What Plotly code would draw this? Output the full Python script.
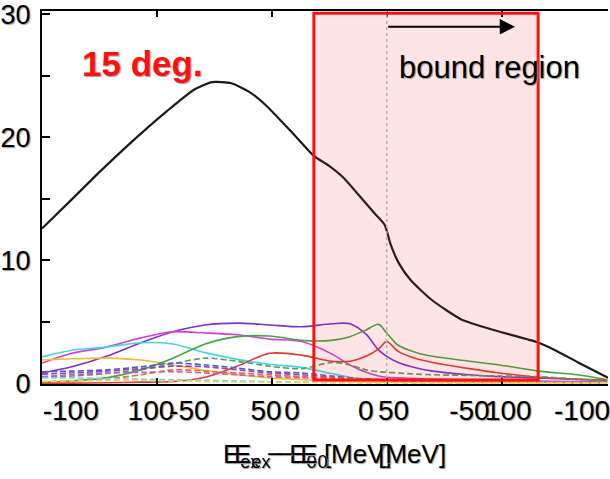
import plotly.graph_objects as go

# Excitation energy E_ex - E_0 [MeV] (axis runs from positive to negative)
e_total = [150.0, 137.9, 124.9, 110.6, 95.9, 83.7, 75.9, 67.6, 59.8, 52.5, 44.7, 38.2, 31.7, 25.2,
           18.7, 12.1, 5.6, 0.9, -1.7, -5.2, -10.4, -19.5, -32.5, -47.3, -64.6, -73.3, -83.3, -96.3]
total = [12.6, 14.8, 17.2, 19.7, 22.1, 23.9, 24.5, 24.4, 23.7, 22.6, 21.1, 19.8, 18.5, 17.7,
         16.7, 15.3, 13.9, 12.9, 11.3, 9.8, 8.4, 6.8, 5.2, 4.3, 3.4, 2.7, 1.7, 0.45]

e_comp = [150, 137, 122, 107, 93, 79, 65, 51, 37, 24, 16, 9, 3.5, 0, -5, -13, -20, -36, -49, -66, -83, -96]

violet   = [0.85, 1.35, 2.2, 3.3, 4.2, 4.75, 4.9, 4.75, 4.6, 4.85, 4.85, 4.0, 2.7, 2.2, 1.7, 1.25, 1.0, 0.7, 0.55, 0.45, 0.32, 0.25]
magenta  = [1.65, 2.45, 2.95, 3.7, 4.2, 4.1, 3.95, 3.6, 3.4, 2.4, 1.5, 0.9, 0.6, 0.5, 0.45, 0.4, 0.35, 0.3, 0.25, 0.2, 0.15, 0.1]
cyan     = [2.15, 2.7, 2.95, 3.3, 3.2, 2.5, 1.95, 1.55, 1.3, 0.8, 0.5, 0.35, 0.3, 0.25, 0.22, 0.2, 0.18, 0.15, 0.12, 0.1, 0.08, 0.05]
yellow   = [1.9, 2.0, 2.05, 1.9, 1.5, 1.05, 0.7, 0.45, 0.3, 0.2, 0.15, 0.12, 0.1, 0.1, 0.1, 0.08, 0.08, 0.06, 0.05, 0.05, 0.04, 0.03]
green    = [0.1, 0.2, 0.45, 1.1, 2.05, 3.2, 3.8, 3.85, 3.5, 3.5, 3.8, 4.35, 4.8, 4.1, 3.1, 2.5, 2.2, 1.8, 1.5, 1.0, 0.7, 0.3]
red      = [0.0, 0.02, 0.05, 0.1, 0.15, 0.5, 1.4, 2.45, 2.3, 1.8, 1.8, 2.2, 2.8, 3.4, 2.6, 2.0, 1.7, 1.2, 0.85, 0.5, 0.35, 0.25]
green_d  = [0.5, 0.6, 0.8, 1.1, 1.6, 2.05, 1.8, 1.4, 1.2, 1.7, 1.5, 1.1, 0.95, 0.9, 0.85, 0.75, 0.7, 0.65, 0.6, 0.55, 0.35, 0.2]
blue_d   = [0.95, 1.0, 1.1, 1.35, 1.65, 1.5, 1.25, 0.95, 0.85, 0.6, 0.45, 0.35, 0.3, 0.28, 0.25, 0.22, 0.2, 0.15, 0.12, 0.1, 0.07, 0.05]
purple_d = [0.75, 0.85, 1.0, 1.2, 1.4, 1.35, 1.1, 0.85, 0.7, 0.5, 0.4, 0.3, 0.25, 0.22, 0.2, 0.18, 0.16, 0.15, 0.12, 0.1, 0.08, 0.05]
pink_d   = [0.55, 0.7, 0.85, 0.9, 0.95, 0.85, 0.7, 0.55, 0.45, 0.4, 0.35, 0.3, 0.28, 0.27, 0.25, 0.22, 0.2, 0.17, 0.15, 0.12, 0.1, 0.08]
orange_d = [0.15, 0.2, 0.35, 0.7, 1.1, 1.0, 0.85, 0.7, 0.55, 0.45, 0.4, 0.35, 0.3, 0.28, 0.25, 0.2, 0.18, 0.15, 0.12, 0.1, 0.07, 0.05]
cyan_d   = [0.45, 0.45, 0.4, 0.35, 0.3, 0.25, 0.2, 0.15, 0.1, 0.08, 0.07, 0.06, 0.05, 0.05, 0.05, 0.04, 0.04, 0.03, 0.03, 0.02, 0.02, 0.02]
yellow_d = [0.15, 0.2, 0.25, 0.25, 0.2, 0.15, 0.12, 0.1, 0.08, 0.06, 0.05, 0.05, 0.04, 0.04, 0.04, 0.03, 0.03, 0.03, 0.02, 0.02, 0.02, 0.02]

# Tick labels of the two overlaid label rows on the energy axis
row_a_pos = [102.6, 52.5, 9.1, -36.0, -85.0]
row_a_txt = ["100", "50", "0", "-50", "-100"]
row_b_pos = [137.5, 85.9, 41.2, -3.0, -52.9]
row_b_txt = ["-100", "-50", "0", "50", "100"]

major_ticks = [100, 50, 0, -50, -100]
y_ticks = [0, 5, 10, 15, 20, 25, 30]
y_tick_txt = ["0", "", "10", "", "20", "", "30"]

# Bound-region box and arrow
box_e = (31.7, -65.9)
box_y = (0.28, 30.1)
arrow_e = (0.0, -55.9)
arrow_y = 29.0

FONT = "Liberation Sans, Arial, sans-serif"
SHADOW = "1px 1px 1px #9a9a9a"
NB = "\u00a0"
# energy-axis title, printed twice: (left edge in paper units, text)
title_copies = [
    (0.317, "E<sub>ex</sub> − E<sub>0</sub> [MeV]"),
    (0.336, "E<sub>ex</sub> − E<sub>0</sub> " + NB * 6 + "[MeV]"),
]

components = [
    (violet,   "#7A30DA", "solid"),
    (magenta,  "#D93ADB", "solid"),
    (cyan,     "#3FD6E2", "solid"),
    (yellow,   "#F2BE2C", "solid"),
    (green,    "#3FA743", "solid"),
    (red,      "#E23A2E", "solid"),
    (green_d,  "#5E9C55", "6px,3px"),
    (blue_d,   "#4A5CD4", "6px,3px"),
    (purple_d, "#8B42CF", "6px,3px"),
    (pink_d,   "#D553D3", "6px,3px"),
    (orange_d, "#EE6A2C", "6px,3px"),
    (cyan_d,   "#6BD9E3", "6px,3px"),
    (yellow_d, "#F3CF63", "6px,3px"),
]

fig = go.Figure()

for vals, col, dash in components:
    fig.add_trace(go.Scatter(
        x=e_comp, y=vals, mode="lines",
        line=dict(color=col, width=1.6, dash=dash, shape="spline", smoothing=0.8),
        hoverinfo="skip", showlegend=False,
    ))

fig.add_trace(go.Scatter(
    x=e_total, y=total, mode="lines",
    line=dict(color="#1a1a1a", width=2.2, shape="spline", smoothing=0.6),
    showlegend=False,
))

# carriers for the two label rows
for ax in ("x2", "x3"):
    fig.add_trace(go.Scatter(x=[0], y=[0], xaxis=ax, yaxis="y", mode="markers",
                             marker=dict(opacity=0), hoverinfo="skip", showlegend=False))

x_range = [150.0, -96.3]
y_range = [-0.05, 30.28]

label_axis = dict(
    range=x_range, overlaying="x", side="bottom", anchor="y",
    ticks="", showgrid=False, zeroline=False, showline=False,
    tickfont=dict(size=28, shadow=SHADOW), ticklabelstandoff=7,
    ticklabeloverflow="allow",
)

fig.update_layout(
    width=610, height=479,
    margin=dict(l=42, r=0, t=11, b=95),
    paper_bgcolor="white", plot_bgcolor="white",
    font=dict(family=FONT, color="black"),
    xaxis=dict(
        range=x_range, tickvals=major_ticks, ticks="inside", ticklen=6, tickwidth=1.5,
        tickcolor="black", showticklabels=False, showgrid=False, zeroline=False,
        showline=True, linecolor="black", linewidth=2, mirror="ticks",
    ),
    xaxis2=dict(label_axis, tickvals=row_a_pos, ticktext=row_a_txt),
    xaxis3=dict(label_axis, tickvals=row_b_pos, ticktext=row_b_txt),
    yaxis=dict(
        range=y_range, tickvals=y_ticks, ticktext=y_tick_txt,
        ticks="inside", ticklen=8, tickwidth=1.5, tickcolor="black",
        showgrid=False, zeroline=False, showline=True, linecolor="black", linewidth=2,
        tickfont=dict(size=27, shadow=SHADOW), ticklabelstandoff=4,
        ticklabeloverflow="allow",
    ),
)

# bound-region box, drawn over the curves
fig.add_shape(type="rect", xref="x", yref="y",
              x0=box_e[0], x1=box_e[1], y0=box_y[0], y1=box_y[1],
              line=dict(color="#FF1010", width=3), fillcolor="rgba(240,40,40,0.12)",
              layer="above")

# threshold marker at E = 0
fig.add_shape(type="line", xref="x", yref="paper", x0=0, x1=0, y0=0, y1=1,
              line=dict(color="#b0b0b0", width=1.5, dash="dot"), layer="above")

fig.add_annotation(x=arrow_e[1], y=arrow_y, ax=arrow_e[0], ay=arrow_y,
                   xref="x", yref="y", axref="x", ayref="y", text="",
                   showarrow=True, arrowhead=2, arrowsize=1.4, arrowwidth=2.2,
                   arrowcolor="black")

fig.add_annotation(x=-4.3, y=25.7, xref="x", yref="y", text="bound region",
                   showarrow=False, xanchor="left", yanchor="middle",
                   font=dict(size=31, color="black", shadow=SHADOW))

fig.add_annotation(x=133.6, y=26.0, xref="x", yref="y", text="<b>15 deg.</b>",
                   showarrow=False, xanchor="left", yanchor="middle",
                   font=dict(size=35, color="#FF1010", shadow="1px 1px 1px #a0a0a0"))

for x_left, txt in title_copies:
    fig.add_annotation(x=x_left, y=0, xref="paper", yref="paper", yshift=-53,
                       text=txt, showarrow=False,
                       xanchor="left", yanchor="top",
                       font=dict(size=26, color="black", shadow=SHADOW))

fig.write_html("out.html")
